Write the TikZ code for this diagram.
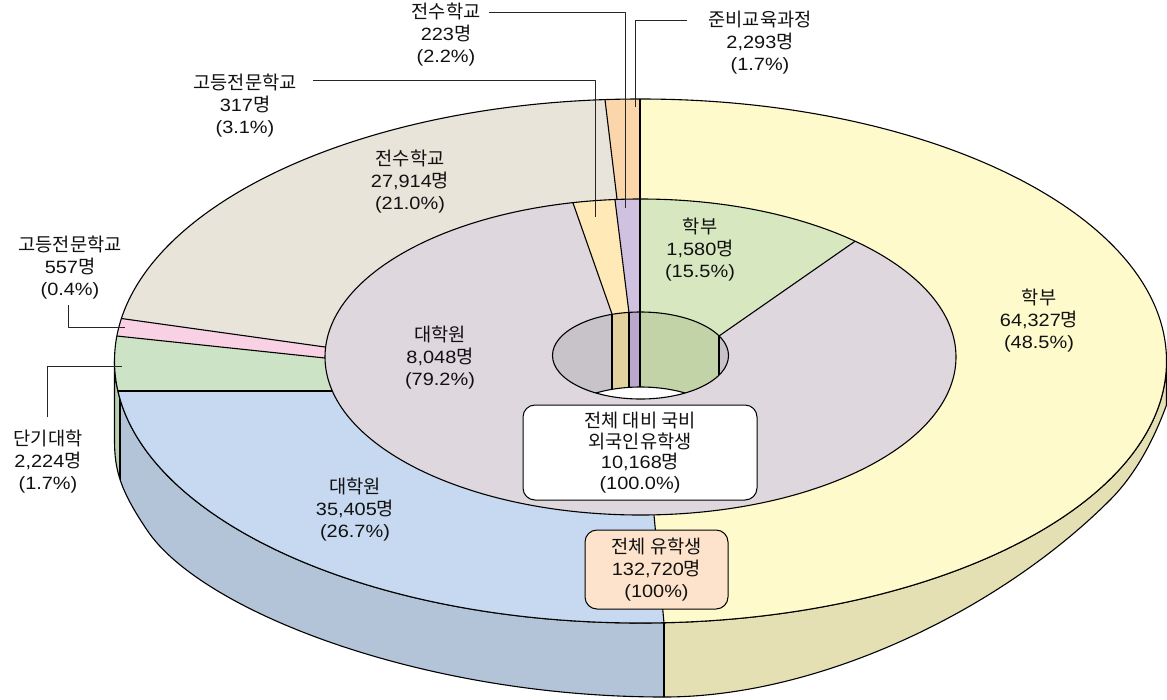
\documentclass[tikz,border=0pt]{standalone}
\usepackage{fontspec}
\setmainfont{Liberation Sans}[FakeStretch=1.12]
\newfontfamily\kr{Noto Sans CJK KR}[Scale=1.05]
\newcommand\hk[1]{{\kr #1}}
\definecolor{cYel}{HTML}{FFFACB}
\definecolor{cYelS}{HTML}{E4E0B3}
\definecolor{cBlu}{HTML}{C6D9F0}
\definecolor{cBluS}{HTML}{B3C4D8}
\definecolor{cGrn}{HTML}{CCE3C5}
\definecolor{cGrnS}{HTML}{B9CFB2}
\definecolor{cPnk}{HTML}{F8D2E4}
\definecolor{cBei}{HTML}{E8E4DA}
\definecolor{cOra}{HTML}{FBD6AB}
\definecolor{iGrn}{HTML}{D7E8C0}
\definecolor{iGry}{HTML}{DED7DE}
\definecolor{iYel}{HTML}{FFE9B6}
\definecolor{iPur}{HTML}{CFC1DF}
\definecolor{hGry}{HTML}{C8C3C8}
\definecolor{hTan}{HTML}{E3D2A0}
\definecolor{hPur}{HTML}{B9A8CB}
\definecolor{hGrn}{HTML}{C2D3A8}
\definecolor{boxOra}{HTML}{FDE3CB}
\definecolor{txt}{HTML}{111111}
\begin{document}
\begin{tikzpicture}[x=1pt,y=-1pt,line join=round,
  lbl/.style={align=center,font=\fontsize{17.8}{22}\selectfont,inner sep=0pt,text=txt},
  edge/.style={draw=black,line width=1.1pt},
  leader/.style={draw=black!85,line width=1pt},
  box/.style={lbl,draw=black,line width=1pt,rounded corners=12pt}]
\useasboundingbox (0,0) rectangle (1167,699);
\fill[white] (0,0) rectangle (1167,699);
\def\sidepath{(114.5,361) arc[start angle=180,end angle=0,x radius=526,y radius=262]
  -- (1166.5,405) .. controls (1150,450) and (1130,480) .. (1110,500)
  .. controls (1000,610) and (820,697) .. (664,697)
  .. controls (420,697) and (200,610) .. (147,530)
  .. controls (120,490) and (114.5,470) .. (114.5,440) -- cycle}
% side wall
\begin{scope}
\clip \sidepath;
\fill[cYelS] (0,0) rectangle (1167,699);
\fill[cBluS] (120,0) rectangle (664,699);
\fill[cGrnS] (0,0) rectangle (120,699);
\draw[edge] (120,380) -- (120,699);
\draw[edge] (664,600) -- (664,699);
\end{scope}
\draw[edge] \sidepath;
% top face outer ring
\begin{scope}
\clip (640.5,361) ellipse [x radius=526,y radius=262];
\fill[cYel] (0,0) rectangle (1167,699);
\fill[cBlu] (654,515) -- (673,720) -- (-10,720) -- (-10,391) -- (332,391) -- cycle;
\fill[cGrn] (332,391) -- (-10,391) -- (-10,322.6) -- (325,358) -- cycle;
\fill[cPnk] (325,358) -- (-10,322.6) -- (-10,300.1) -- (325,347) -- cycle;
\fill[cBei] (325,347) -- (-10,300.1) -- (-10,-10) -- (591.7,-10) -- (617,199) -- cycle;
\fill[cOra] (617,199) -- (591.7,-10) -- (640,-10) -- (640,199) -- cycle;
\draw[edge] (640,-10) -- (640,210);
\draw[edge] (591.7,-10) -- (617,199);
\draw[edge] (-10,300.1) -- (325,347);
\draw[edge] (-10,322.6) -- (325,358);
\draw[edge] (-10,391) -- (332,391);
\draw[edge] (654,515) -- (673,720);
\end{scope}
\draw[edge] (640.5,361) ellipse [x radius=526,y radius=262];
% inner ring
\begin{scope}
\clip (640.5,357) ellipse [x radius=315.5,y radius=158];
\fill[iGry] (300,150) rectangle (1000,560);
\fill[iGrn] (640,340) -- (640,150) -- (1000,140.4) -- (719,336) -- cycle;
\fill[iPur] (629,313) -- (608.8,150) -- (640,150) -- (640,313) -- cycle;
\fill[iYel] (612,314) -- (554.4,150) -- (608.8,150) -- (629,313) -- cycle;
\draw[edge] (640,150) -- (640,330);
\draw[edge] (629,313) -- (608.8,150);
\draw[edge] (612,314) -- (554.4,150);
\draw[edge] (719,336) -- (1000,140.4);
\end{scope}
\draw[edge] (640.5,357) ellipse [x radius=315.5,y radius=158];
% hole
\begin{scope}
\clip (640.5,355.5) ellipse [x radius=88,y radius=43.5];
\fill[hGry] (540,300) rectangle (740,410);
\fill[hTan] (612,300) rectangle (629,410);
\fill[hPur] (629,300) rectangle (640,410);
\fill[hGrn] (640,300) rectangle (719,410);
\draw[edge] (612,300) -- (612,410);
\draw[edge] (629,300) -- (629,410);
\draw[edge] (640,300) -- (640,410);
\draw[edge] (719,300) -- (719,410);
\fill[white,draw=black,line width=1.1pt] (640.5,430.5) ellipse [x radius=88,y radius=43.5];
\end{scope}
\draw[edge] (640.5,355.5) ellipse [x radius=88,y radius=43.5];
% labels
\node[lbl] (l1) at (446,35) {\hk{전수학교}\\223\hk{명}\\(2.2\%)};
\node[lbl] (l2) at (245,106) {\hk{고등전문학교}\\317\hk{명}\\(3.1\%)};
\node[lbl] (l3) at (760,43) {\hk{준비교육과정}\\2,293\hk{명}\\(1.7\%)};
\node[lbl] (l4) at (410,182) {\hk{전수학교}\\27,914\hk{명}\\(21.0\%)};
\node[lbl] (l5) at (700,250) {\hk{학부}\\1,580\hk{명}\\(15.5\%)};
\node[lbl] (l6) at (1039,321) {\hk{학부}\\64,327\hk{명}\\(48.5\%)};
\node[lbl] (l7) at (440,358) {\hk{대학원}\\8,048\hk{명}\\(79.2\%)};
\node[lbl] (l8) at (355,510) {\hk{대학원}\\35,405\hk{명}\\(26.7\%)};
\node[lbl] (l9) at (70,268) {\hk{고등전문학교}\\557\hk{명}\\(0.4\%)};
\node[lbl] (l10) at (48,462) {\hk{단기대학}\\2,224\hk{명}\\(1.7\%)};
\node[box,fill=white,minimum width=234pt,minimum height=95pt,font=\fontsize{17.8}{20.5}\selectfont] (bx1) at (640,452.5)
  {\hk{전체 대비 국비}\\\hk{외국인유학생}\\10,168\hk{명}\\(100.0\%)};
\node[box,fill=boxOra,minimum width=143pt,minimum height=79pt] (bx2) at (656.5,569.5)
  {\hk{전체 유학생}\\132,720\hk{명}\\(100\%)};
% leaders
\coordinate (a1) at (489,12); \coordinate (e1) at (625,208);
\coordinate (a2) at (313,80); \coordinate (e2) at (595,217);
\coordinate (a3) at (687,20); \coordinate (e3) at (635,107);
\coordinate (a9) at (68,305); \coordinate (e9) at (125,327);
\coordinate (a10) at (47,417); \coordinate (e10) at (122,366);
\draw[leader] (a1) -| (e1);
\draw[leader] (a2) -| (e2);
\draw[leader] (a3) -| (e3);
\draw[leader] (a9) |- (e9);
\draw[leader] (a10) |- (e10);
\end{tikzpicture}
\end{document}
